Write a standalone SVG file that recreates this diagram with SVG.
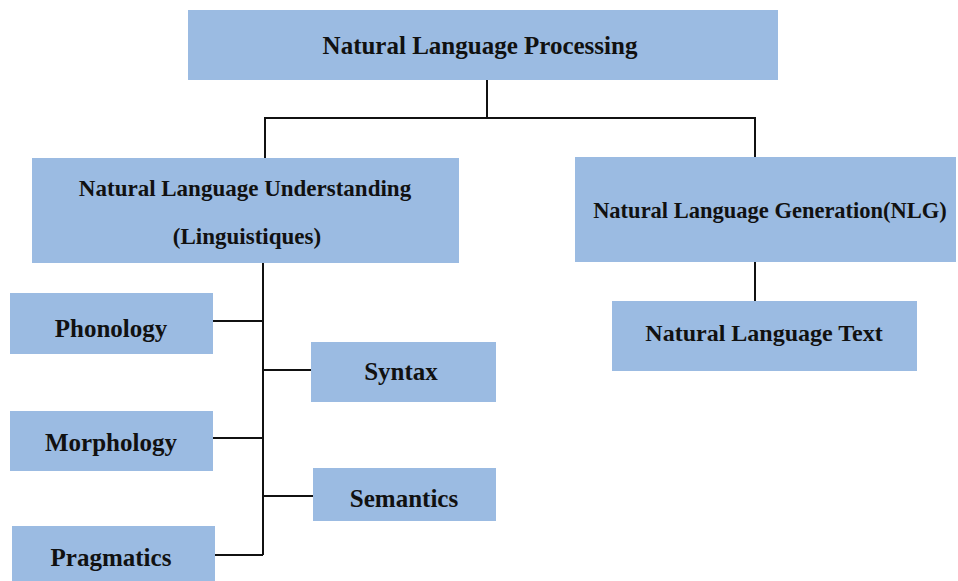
<svg xmlns="http://www.w3.org/2000/svg" width="958" height="581" viewBox="0 0 958 581">
  <style>
    .box { fill: #9bbbe2; }
    .label { font-family: "Liberation Serif", "Times New Roman", serif; font-weight: bold; font-size: 25px; fill: #111; text-anchor: middle; dominant-baseline: central; }
    .small { font-size: 23px; }
    .wire { fill: none; stroke: #111; stroke-width: 2; }
  </style>
  <rect width="958" height="581" fill="#ffffff"/>

  <g id="connectors">
    <path class="wire" d="M487 80 V118 M265 118 H755 M265 117 V158 M755 117 V157"/>
    <path class="wire" d="M755 262 V301"/>
    <path class="wire" d="M263 263 V555 M213 321 H263 M263 370 H311 M213 438 H263 M263 496 H313 M215 555 H263"/>
  </g>

  <g id="nlp">
    <rect class="box" x="188" y="10" width="590" height="70"/>
    <text class="label" x="480" y="45">Natural Language Processing</text>
  </g>
  <g id="nlu">
    <rect class="box" x="32" y="158" width="427" height="105"/>
    <text class="label small" x="245" y="188">Natural Language Understanding</text>
    <text class="label small" x="247" y="236">(Linguistiques)</text>
  </g>
  <g id="nlg">
    <rect class="box" x="575" y="157" width="381" height="105"/>
    <text class="label" x="770" y="210" style="font-size:22.5px">Natural Language Generation(NLG)</text>
  </g>
  <g id="nlt">
    <rect class="box" x="612" y="301" width="305" height="70"/>
    <text class="label" x="764" y="333" style="font-size:24px">Natural Language Text</text>
  </g>
  <g id="phonology">
    <rect class="box" x="10" y="293" width="203" height="61"/>
    <text class="label" x="111" y="328">Phonology</text>
  </g>
  <g id="syntax">
    <rect class="box" x="311" y="342" width="185" height="60"/>
    <text class="label" x="401" y="371">Syntax</text>
  </g>
  <g id="morphology">
    <rect class="box" x="10" y="411" width="203" height="60"/>
    <text class="label" x="111" y="442">Morphology</text>
  </g>
  <g id="semantics">
    <rect class="box" x="313" y="468" width="183" height="53"/>
    <text class="label" x="404" y="498">Semantics</text>
  </g>
  <g id="pragmatics">
    <rect class="box" x="12" y="526" width="203" height="60"/>
    <text class="label" x="111" y="557">Pragmatics</text>
  </g>
</svg>
